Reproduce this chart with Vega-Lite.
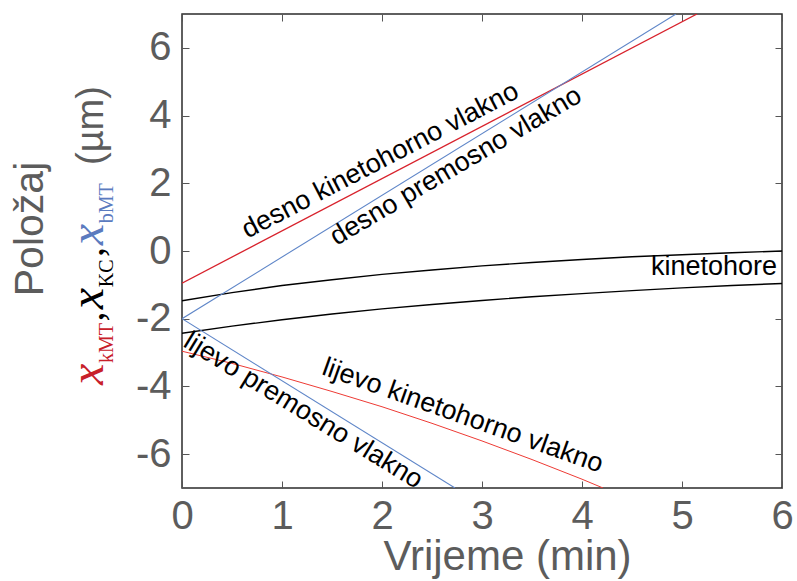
{
  "$schema": "https://vega.github.io/schema/vega-lite/v6.json",
  "width": 600,
  "height": 474,
  "autosize": {"type": "none"},
  "padding": {"left": 182, "top": 14, "right": 15, "bottom": 93},
  "config": {
    "view": {"stroke": "#2b2b2b", "strokeWidth": 1.5},
    "font": "Liberation Sans",
    "text": {"font": "Liberation Sans"}
  },
  "datasets": {
    "lines": [
      {"series": "desnoKMT", "t": 0, "pos": -0.95},
      {"series": "desnoKMT", "t": 5.15, "pos": 7.0},
      {"series": "desnoBMT", "t": 0, "pos": -2.0},
      {"series": "desnoBMT", "t": 4.94, "pos": 7.0},
      {"series": "lijevoBMT", "t": 0, "pos": -2.0},
      {"series": "lijevoBMT", "t": 2.73, "pos": -7.0},
      {"series": "lijevoKMT", "t": 0, "pos": -2.96},
      {"series": "lijevoKMT", "t": 0.5, "pos": -3.32},
      {"series": "lijevoKMT", "t": 1, "pos": -3.72},
      {"series": "lijevoKMT", "t": 1.5, "pos": -4.15},
      {"series": "lijevoKMT", "t": 2, "pos": -4.6},
      {"series": "lijevoKMT", "t": 2.5, "pos": -5.09},
      {"series": "lijevoKMT", "t": 3, "pos": -5.61},
      {"series": "lijevoKMT", "t": 3.5, "pos": -6.16},
      {"series": "lijevoKMT", "t": 4, "pos": -6.74},
      {"series": "lijevoKMT", "t": 4.21, "pos": -7.0},
      {"series": "kcUpper", "t": 0, "pos": -1.47},
      {"series": "kcUpper", "t": 0.5, "pos": -1.23},
      {"series": "kcUpper", "t": 1, "pos": -1.02},
      {"series": "kcUpper", "t": 1.5, "pos": -0.85},
      {"series": "kcUpper", "t": 2, "pos": -0.69},
      {"series": "kcUpper", "t": 2.5, "pos": -0.56},
      {"series": "kcUpper", "t": 3, "pos": -0.44},
      {"series": "kcUpper", "t": 3.5, "pos": -0.34},
      {"series": "kcUpper", "t": 4, "pos": -0.25},
      {"series": "kcUpper", "t": 4.5, "pos": -0.17},
      {"series": "kcUpper", "t": 5, "pos": -0.11},
      {"series": "kcUpper", "t": 5.5, "pos": -0.05},
      {"series": "kcUpper", "t": 6, "pos": 0.0},
      {"series": "kcLower", "t": 0, "pos": -2.43},
      {"series": "kcLower", "t": 0.5, "pos": -2.22},
      {"series": "kcLower", "t": 1, "pos": -2.03},
      {"series": "kcLower", "t": 1.5, "pos": -1.86},
      {"series": "kcLower", "t": 2, "pos": -1.71},
      {"series": "kcLower", "t": 2.5, "pos": -1.58},
      {"series": "kcLower", "t": 3, "pos": -1.46},
      {"series": "kcLower", "t": 3.5, "pos": -1.35},
      {"series": "kcLower", "t": 4, "pos": -1.26},
      {"series": "kcLower", "t": 4.5, "pos": -1.17},
      {"series": "kcLower", "t": 5, "pos": -1.09},
      {"series": "kcLower", "t": 5.5, "pos": -1.02},
      {"series": "kcLower", "t": 6, "pos": -0.96}
    ]
  },
  "resolve": {"axis": {"x": "independent", "y": "independent"}},
  "layer": [
    {
      "layer": [
        {
          "data": {"name": "lines"},
          "transform": [{"filter": "datum.series === 'kcUpper'"}],
          "mark": {"type": "line", "color": "#000000", "strokeWidth": 1.4, "clip": true},
          "encoding": {
            "x": {
              "field": "t", "type": "quantitative",
              "scale": {"domain": [0, 6], "nice": false, "zero": false},
              "axis": {
                "orient": "bottom", "values": [0, 1, 2, 3, 4, 5, 6],
                "labelExpr": "'' + datum.value",
                "tickSize": -7, "tickColor": "#555555", "tickWidth": 1,
                "labelPadding": 15, "labelFontSize": 40, "labelColor": "#5c5c5c",
                "labelFont": "Liberation Sans", "labelFlush": false,
                "domain": false, "grid": false,
                "title": "Vrijeme (min)", "titleFontSize": 42, "titleFontWeight": "normal",
                "titleColor": "#5c5c5c", "titleFont": "Liberation Sans",
                "titlePadding": 0, "titleX": 325
              }
            },
            "y": {
              "field": "pos", "type": "quantitative",
              "scale": {"domain": [-7, 7], "nice": false, "zero": false},
              "axis": {
                "orient": "left", "values": [-6, -4, -2, 0, 2, 4, 6],
                "labelExpr": "'' + datum.value",
                "tickSize": -7, "tickColor": "#555555", "tickWidth": 1,
                "labelPadding": 18, "labelFontSize": 40, "labelColor": "#5c5c5c",
                "labelFont": "Liberation Sans", "labelFlush": false,
                "domain": false, "grid": false, "title": null
              }
            }
          }
        },
        {
          "data": {"name": "lines"},
          "transform": [{"filter": "datum.series === 'kcLower'"}],
          "mark": {"type": "line", "color": "#000000", "strokeWidth": 1.4, "clip": true},
          "encoding": {
            "x": {"field": "t", "type": "quantitative"},
            "y": {"field": "pos", "type": "quantitative"}
          }
        },
        {
          "data": {"name": "lines"},
          "transform": [{"filter": "datum.series === 'desnoKMT'"}],
          "mark": {"type": "line", "color": "#d8222c", "strokeWidth": 1.3, "clip": true},
          "encoding": {
            "x": {"field": "t", "type": "quantitative"},
            "y": {"field": "pos", "type": "quantitative"}
          }
        },
        {
          "data": {"name": "lines"},
          "transform": [{"filter": "datum.series === 'lijevoKMT'"}],
          "mark": {"type": "line", "color": "#ee3b35", "strokeWidth": 1.0, "clip": true},
          "encoding": {
            "x": {"field": "t", "type": "quantitative"},
            "y": {"field": "pos", "type": "quantitative"}
          }
        },
        {
          "data": {"name": "lines"},
          "transform": [{"filter": "datum.series === 'desnoBMT' || datum.series === 'lijevoBMT'"}],
          "mark": {"type": "line", "color": "#5f86c8", "strokeWidth": 1.1, "clip": true},
          "encoding": {
            "x": {"field": "t", "type": "quantitative"},
            "y": {"field": "pos", "type": "quantitative"},
            "detail": {"field": "series"}
          }
        },
        {
          "mark": {"type": "rule", "color": "#000000", "strokeWidth": 1, "strokeDash": [1.5, 1.5]},
          "encoding": {"y": {"datum": 0}}
        },
        {
          "data": {"values": [{"label": "desno kinetohorno vlakno", "t": 2.02, "pos": 2.46}]},
          "mark": {"type": "text", "fontSize": 27, "angle": -27.5, "align": "center", "baseline": "alphabetic", "color": "#000000"},
          "encoding": {
            "x": {"field": "t", "type": "quantitative"},
            "y": {"field": "pos", "type": "quantitative"},
            "text": {"field": "label"}
          }
        },
        {
          "data": {"values": [{"label": "desno premosno vlakno", "t": 2.78, "pos": 2.3}]},
          "mark": {"type": "text", "fontSize": 27, "angle": -30.5, "align": "center", "baseline": "alphabetic", "color": "#000000"},
          "encoding": {
            "x": {"field": "t", "type": "quantitative"},
            "y": {"field": "pos", "type": "quantitative"},
            "text": {"field": "label"}
          }
        },
        {
          "data": {"values": [{"label": "lijevo kinetohorno vlakno", "t": 2.78, "pos": -5.09}]},
          "mark": {"type": "text", "fontSize": 27, "angle": 19.5, "align": "center", "baseline": "alphabetic", "color": "#000000"},
          "encoding": {
            "x": {"field": "t", "type": "quantitative"},
            "y": {"field": "pos", "type": "quantitative"},
            "text": {"field": "label"}
          }
        },
        {
          "data": {"values": [{"label": "lijevo premosno vlakno", "t": 1.17, "pos": -4.92}]},
          "mark": {"type": "text", "fontSize": 27, "angle": 31.5, "align": "center", "baseline": "alphabetic", "color": "#000000"},
          "encoding": {
            "x": {"field": "t", "type": "quantitative"},
            "y": {"field": "pos", "type": "quantitative"},
            "text": {"field": "label"}
          }
        },
        {
          "data": {"values": [{"label": "kinetohore", "t": 5.95, "pos": -0.71}]},
          "mark": {"type": "text", "fontSize": 27, "align": "right", "baseline": "alphabetic", "color": "#000000"},
          "encoding": {
            "x": {"field": "t", "type": "quantitative"},
            "y": {"field": "pos", "type": "quantitative"},
            "text": {"field": "label"}
          }
        },
        {
          "data": {"values": [{"label": "Položaj", "t": -1.39, "pos": 0.65}]},
          "mark": {"type": "text", "fontSize": 41, "angle": -90, "align": "center", "baseline": "alphabetic", "color": "#5c5c5c"},
          "encoding": {
            "x": {"field": "t", "type": "quantitative"},
            "y": {"field": "pos", "type": "quantitative"},
            "text": {"field": "label"}
          }
        },
        {
          "data": {"values": [{"label": "x", "t": -0.787, "pos": -3.96}]},
          "mark": {"type": "text", "font": "Liberation Serif", "fontStyle": "italic", "fontSize": 48, "angle": -90, "align": "left", "baseline": "alphabetic", "color": "#c8202a"},
          "encoding": {
            "x": {"field": "t", "type": "quantitative"},
            "y": {"field": "pos", "type": "quantitative"},
            "text": {"field": "label"}
          }
        },
        {
          "data": {"values": [{"label": "kMT", "t": -0.69, "pos": -3.31}]},
          "mark": {"type": "text", "font": "Liberation Serif", "fontSize": 20, "angle": -90, "align": "left", "baseline": "alphabetic", "color": "#c8202a"},
          "encoding": {
            "x": {"field": "t", "type": "quantitative"},
            "y": {"field": "pos", "type": "quantitative"},
            "text": {"field": "label"}
          }
        },
        {
          "data": {"values": [{"label": ",", "t": -0.787, "pos": -2.08}, {"label": ",", "t": -0.787, "pos": -0.18}]},
          "mark": {"type": "text", "font": "Liberation Serif", "fontSize": 40, "angle": -90, "align": "left", "baseline": "alphabetic", "color": "#000000"},
          "encoding": {
            "x": {"field": "t", "type": "quantitative"},
            "y": {"field": "pos", "type": "quantitative"},
            "text": {"field": "label"}
          }
        },
        {
          "data": {"values": [{"label": "x", "t": -0.787, "pos": -1.72}]},
          "mark": {"type": "text", "font": "Liberation Serif", "fontStyle": "italic", "fontSize": 48, "angle": -90, "align": "left", "baseline": "alphabetic", "color": "#000000"},
          "encoding": {
            "x": {"field": "t", "type": "quantitative"},
            "y": {"field": "pos", "type": "quantitative"},
            "text": {"field": "label"}
          }
        },
        {
          "data": {"values": [{"label": "KC", "t": -0.69, "pos": -1.07}]},
          "mark": {"type": "text", "font": "Liberation Serif", "fontSize": 20, "angle": -90, "align": "left", "baseline": "alphabetic", "color": "#000000"},
          "encoding": {
            "x": {"field": "t", "type": "quantitative"},
            "y": {"field": "pos", "type": "quantitative"},
            "text": {"field": "label"}
          }
        },
        {
          "data": {"values": [{"label": "x", "t": -0.787, "pos": 0.17}]},
          "mark": {"type": "text", "font": "Liberation Serif", "fontStyle": "italic", "fontSize": 48, "angle": -90, "align": "left", "baseline": "alphabetic", "color": "#5b7bbf"},
          "encoding": {
            "x": {"field": "t", "type": "quantitative"},
            "y": {"field": "pos", "type": "quantitative"},
            "text": {"field": "label"}
          }
        },
        {
          "data": {"values": [{"label": "bMT", "t": -0.69, "pos": 0.82}]},
          "mark": {"type": "text", "font": "Liberation Serif", "fontSize": 20, "angle": -90, "align": "left", "baseline": "alphabetic", "color": "#5b7bbf"},
          "encoding": {
            "x": {"field": "t", "type": "quantitative"},
            "y": {"field": "pos", "type": "quantitative"},
            "text": {"field": "label"}
          }
        },
        {
          "data": {"values": [{"label": "(µm)", "t": -0.787, "pos": 2.54}]},
          "mark": {"type": "text", "fontSize": 38, "angle": -90, "align": "left", "baseline": "alphabetic", "color": "#5c5c5c"},
          "encoding": {
            "x": {"field": "t", "type": "quantitative"},
            "y": {"field": "pos", "type": "quantitative"},
            "text": {"field": "label"}
          }
        }
      ]
    },
    {
      "data": {"values": [{"t": 0, "pos": 0}]},
      "mark": {"type": "point", "opacity": 0},
      "encoding": {
        "x": {
          "field": "t", "type": "quantitative",
          "axis": {
            "orient": "top", "values": [0, 1, 2, 3, 4, 5, 6], "labels": false,
            "tickSize": -7, "tickColor": "#555555", "tickWidth": 1,
            "domain": false, "grid": false, "title": null
          }
        },
        "y": {
          "field": "pos", "type": "quantitative",
          "axis": {
            "orient": "right", "values": [-6, -4, -2, 0, 2, 4, 6], "labels": false,
            "tickSize": -7, "tickColor": "#555555", "tickWidth": 1,
            "domain": false, "grid": false, "title": null
          }
        }
      }
    }
  ]
}
